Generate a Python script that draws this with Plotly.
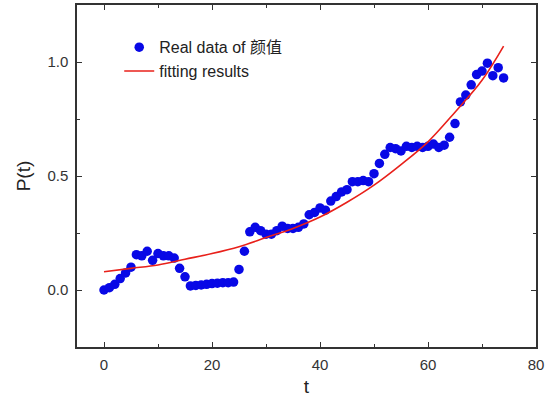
import plotly.graph_objects as go

# Real data
t_data = list(range(0, 75))
p_data = [0.00, 0.01, 0.025, 0.05, 0.075, 0.10, 0.155, 0.15, 0.17, 0.13,
          0.16, 0.15, 0.15, 0.14, 0.095, 0.058, 0.018, 0.02, 0.022, 0.025,
          0.028, 0.03, 0.032, 0.032, 0.035, 0.09, 0.17, 0.255, 0.275, 0.26,
          0.245, 0.245, 0.26, 0.28, 0.27, 0.27, 0.275, 0.29, 0.33, 0.34,
          0.36, 0.35, 0.39, 0.41, 0.43, 0.44, 0.475, 0.475, 0.48, 0.475,
          0.51, 0.555, 0.595, 0.625, 0.62, 0.61, 0.63, 0.625, 0.63, 0.625,
          0.63, 0.64, 0.625, 0.635, 0.67, 0.73, 0.825, 0.855, 0.90, 0.945,
          0.96, 0.995, 0.94, 0.975, 0.93]

# Fitting curve values
t_fit = [0, 5, 10, 15, 20, 25, 30, 35, 40, 45, 50, 55, 60, 65, 70, 74]
p_fit = [0.08, 0.095, 0.11, 0.135, 0.16, 0.19, 0.23, 0.27, 0.32, 0.385,
         0.46, 0.55, 0.65, 0.78, 0.92, 1.07]

x_ticks = [0, 20, 40, 60, 80]
y_ticks = [0.0, 0.5, 1.0]
y_tick_labels = ["0.0", "0.5", "1.0"]

FONT = "Arial, 'Liberation Sans', 'Noto Sans CJK SC', sans-serif"
AX = "#333333"

fig = go.Figure()
fig.add_trace(go.Scatter(
    x=t_data, y=p_data, mode="markers", name="Real data of 颜值",
    marker=dict(color="#0808e6", size=9.5, line=dict(width=0)),
))
fig.add_trace(go.Scatter(
    x=t_fit, y=p_fit, mode="lines", name="fitting results",
    line=dict(color="#e8201a", width=1.6, shape="spline"),
))

axis_common = dict(
    showline=True, linecolor=AX, linewidth=1.5, mirror="ticks",
    ticks="inside", ticklen=5, tickwidth=1.3, tickcolor=AX,
    showgrid=False, zeroline=False, automargin=False,
    tickfont=dict(family=FONT, size=15, color="#333333"),
)

fig.update_xaxes(
    range=[-5, 80], tickvals=x_ticks, ticklabelstandoff=3,
    minor=dict(dtick=10, ticks="inside", ticklen=3, tickcolor=AX, tickwidth=1.2, showgrid=False),
    title=dict(text="t", font=dict(family=FONT, size=19, color="#222222"), standoff=8),
    **axis_common,
)
fig.update_yaxes(
    range=[-0.25, 1.25], tickvals=y_ticks, ticktext=y_tick_labels, ticklabelstandoff=4,
    minor=dict(dtick=0.25, ticks="inside", ticklen=3, tickcolor=AX, tickwidth=1.2, showgrid=False),
    title=dict(text="P(t)", font=dict(family=FONT, size=19, color="#222222"), standoff=12),
    **axis_common,
)

fig.update_layout(
    width=545, height=404,
    margin=dict(l=77, r=9, t=5, b=57),
    plot_bgcolor="white", paper_bgcolor="white",
    showlegend=True,
    legend=dict(
        x=0.092, y=0.926, xanchor="left", yanchor="top",
        bgcolor="rgba(0,0,0,0)", borderwidth=0,
        font=dict(family=FONT, size=16, color="#222222"),
        tracegroupgap=0, itemwidth=30,
    ),
)

fig.write_html("out.html", config={"displayModeBar": False},
               post_script="document.body.style.margin='0px';")
